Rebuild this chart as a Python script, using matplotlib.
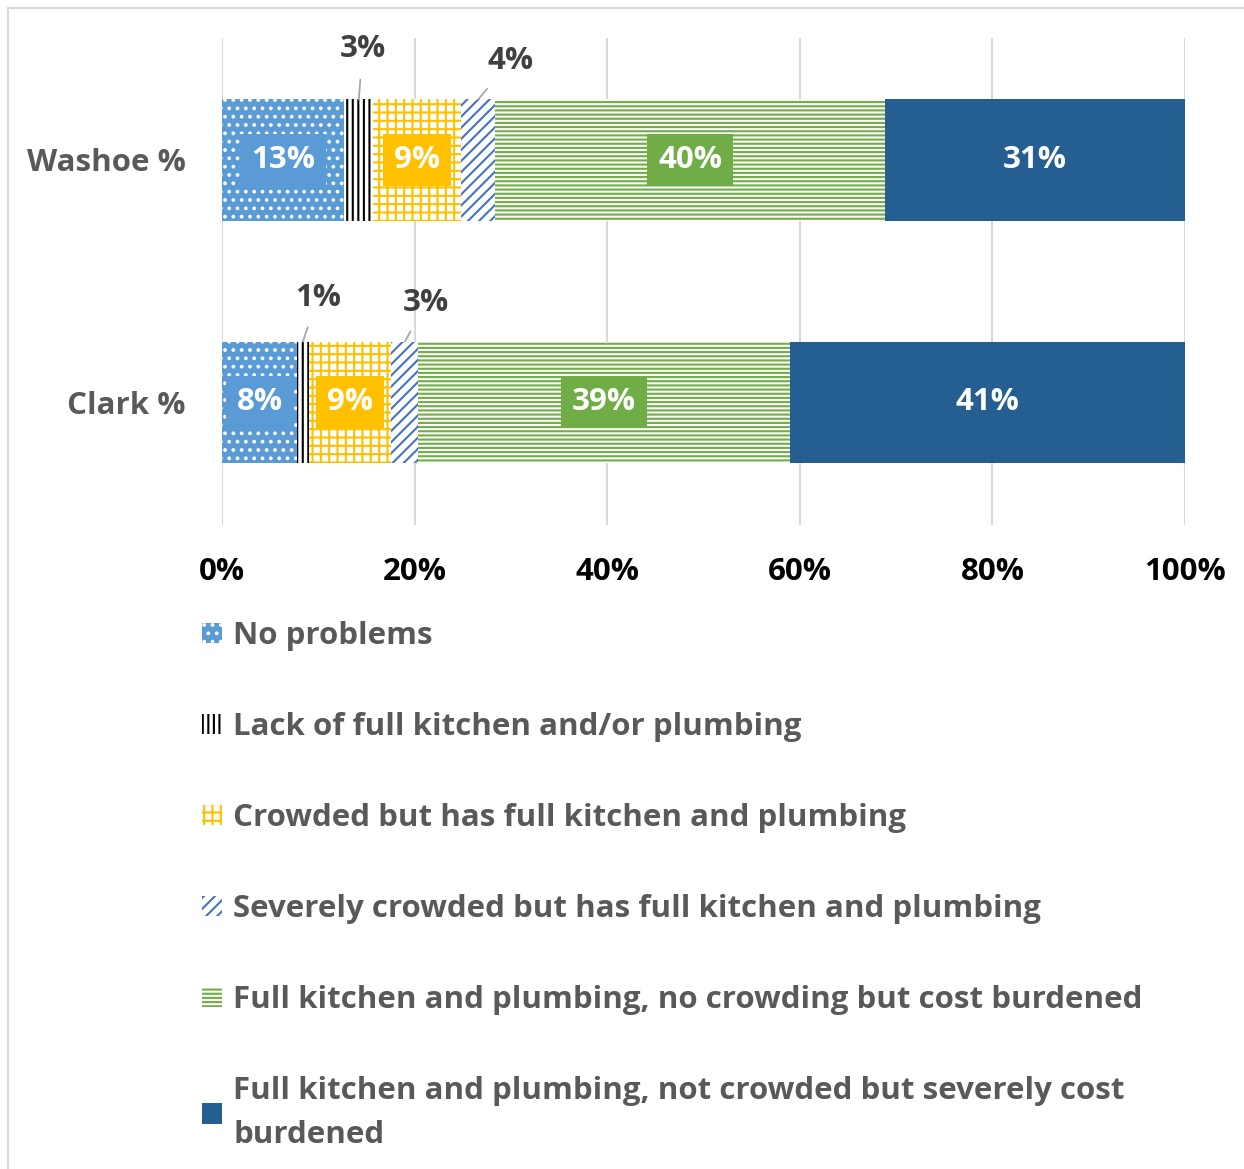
import matplotlib
matplotlib.use("Agg")
import matplotlib.pyplot as plt
from matplotlib.patches import Patch, Rectangle
import numpy as np

# data (percent of households)
groups = ["Clark %", "Washoe %"]
categories = [
    "No problems",
    "Lack of full kitchen and/or plumbing",
    "Crowded but has full kitchen and plumbing",
    "Severely crowded but has full kitchen and plumbing",
    "Full kitchen and plumbing, no crowding but cost burdened",
    "Full kitchen and plumbing, not crowded but severely cost\nburdened",
]
clark = [7.8, 1.2, 8.6, 2.8, 38.6, 41.0]
washoe = [12.7, 3.0, 9.1, 3.6, 40.4, 31.2]
xticks = [0, 20, 40, 60, 80, 100]
xtick_labels = ["0%", "20%", "40%", "60%", "80%", "100%"]

# styles: (face, hatch colour, hatch)
styles = [
    ("#5B9BD5", "white", ".."),
    ("white", "black", "|||"),
    ("white", "#FFC000", "++"),
    ("white", "#4472C4", "///"),
    ("white", "#70AD47", "----"),
    ("#255E91", "#255E91", ""),
]
label_box = ["#5B9BD5", None, "#FFC000", None, "#70AD47", "#255E91"]

FS = 22.5
plt.rcParams['font.family'] = ['Open Sans', 'DejaVu Sans']
plt.rcParams['font.weight'] = 'bold'
plt.rcParams['hatch.linewidth'] = 1.5

W, H = 1244, 1169
fig = plt.figure(figsize=(W / 100, H / 100), dpi=100)
ax = fig.add_axes([222 / W, 1 - 525 / H, (1185 - 222) / W, (525 - 38) / H])

vals = np.array([clark, washoe])
ypos = np.arange(len(groups))
left = np.zeros(len(groups))
for i, cat in enumerate(categories):
    face, hcol, hatch = styles[i]
    ax.barh(ypos, vals[:, i], left=left, height=0.5, color=face,
            edgecolor=hcol, hatch=hatch, linewidth=0, zorder=2)
    for j in range(len(groups)):
        v = vals[j, i]
        cx = left[j] + v / 2
        if label_box[i] is not None:
            ax.text(cx, ypos[j], f"{v:.0f}%", ha="center", va="center",
                    color="white", fontsize=FS, fontweight="bold", zorder=4,
                    bbox=dict(boxstyle="square,pad=0.35", fc=label_box[i], ec="none"))
    left += vals[:, i]

# small segments labelled outside with leader lines
outside = [(1, 1, (4, 50)), (1, 3, (32, 38)), (0, 1, (15, 44)), (0, 3, (21, 39))]
for j, i, off in outside:
    cx = vals[j, :i].sum() + vals[j, i] / 2
    ax.annotate(f"{vals[j, i]:.0f}%", xy=(cx, ypos[j] + 0.25), xytext=off,
                textcoords="offset pixels", ha="center", va="center",
                fontsize=FS, fontweight="bold", color="#404040", zorder=5,
                annotation_clip=False,
                arrowprops=dict(arrowstyle="-", color="#A6A6A6", lw=1.3,
                                shrinkA=9, shrinkB=0))

ax.set_xlim(0, 100)
ax.set_ylim(-0.508, 1.504)
ax.set_xticks(xticks)
ax.set_xticklabels(xtick_labels, fontsize=FS, fontweight="bold", color="black")
ax.set_yticks(ypos)
ax.set_yticklabels(groups, fontsize=FS, fontweight="bold", color="#595959")
ax.tick_params(axis="x", length=0, pad=23)
ax.tick_params(axis="y", length=0, pad=26)
ax.grid(axis="x", color="#D9D9D9", linewidth=1.5, zorder=0)
ax.set_axisbelow(True)
for s in ax.spines.values():
    s.set_visible(False)

handles = [Patch(facecolor=st[0], edgecolor=st[1], hatch=st[2], linewidth=0)
           for st in styles]
leg = fig.legend(handles, categories, loc="upper left",
                 bbox_to_anchor=(174 / W, 1 - 593 / H), frameon=False,
                 labelcolor="#595959", handlelength=0.64,
                 handleheight=0.64, handletextpad=0.35, labelspacing=1.95,
                 prop={'weight': 'bold', 'size': FS})
leg.get_texts()[-1].set_linespacing(1.6)

fig.add_artist(Rectangle((8 / W, -0.01), 1.1, 1.01 - 8 / H, transform=fig.transFigure,
                         fill=False, edgecolor="#D9D9D9", linewidth=1.5))

fig.savefig("out.png", dpi=100)
